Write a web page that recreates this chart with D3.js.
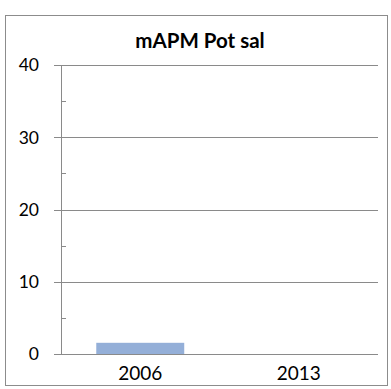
<!DOCTYPE html>
<html>
<head>
<meta charset="utf-8">
<script src="https://cdn.jsdelivr.net/npm/d3@7"></script>
<style>
  html, body { margin: 0; padding: 0; background: #fff; }
  svg { display: block; }
</style>
</head>
<body>
<svg id="chart" width="391" height="389"></svg>
<script>
const chartTitle = "mAPM Pot sal";
const categories = ["2006", "2013"];
const values = [1.55, 0];
const yTicks = [0, 10, 20, 30, 40];
const yMinorTicks = [5, 15, 25, 35];

(function () {
const svg = d3.select("#chart");
const font = "Lato, 'Liberation Sans', Arial, sans-serif";

// outer border
svg.append("rect")
  .attr("x", 5.5).attr("y", 15.5)
  .attr("width", 382).attr("height", 370)
  .attr("fill", "#fff").attr("stroke", "#8c8c8c").attr("stroke-width", 1);

const pLeft = 61, pRight = 378, pTop = 65, pBottom = 354;

const x = d3.scaleBand().domain(categories).range([pLeft, pRight]).paddingInner(0.445).paddingOuter(0.2225);
const y = d3.scaleLinear().domain([0, 40]).range([pBottom, pTop]);

// gridlines
svg.append("g").selectAll("line").data(yTicks.filter(d => d > 0)).join("line")
  .attr("x1", pLeft - 7).attr("x2", pRight)
  .attr("y1", d => Math.round(y(d)) + 0.5).attr("y2", d => Math.round(y(d)) + 0.5)
  .attr("stroke", "#8a8a8a").attr("stroke-width", 1);

// minor ticks
svg.append("g").selectAll("line").data(yMinorTicks).join("line")
  .attr("x1", pLeft).attr("x2", pLeft + 5)
  .attr("y1", d => Math.round(y(d)) + 0.5).attr("y2", d => Math.round(y(d)) + 0.5)
  .attr("stroke", "#8a8a8a").attr("stroke-width", 1);

// bars
svg.append("g").selectAll("rect").data(values).join("rect")
  .attr("x", (d, i) => x(categories[i]))
  .attr("width", x.bandwidth())
  .attr("y", d => y(d))
  .attr("height", d => y(0) - y(d))
  .attr("fill", "#94afd8");

// y axis line
svg.append("line")
  .attr("x1", pLeft + 0.5).attr("x2", pLeft + 0.5)
  .attr("y1", pTop).attr("y2", pBottom)
  .attr("stroke", "#8a8a8a");

// x axis line
svg.append("line")
  .attr("x1", pLeft - 7).attr("x2", pRight)
  .attr("y1", Math.round(y(0)) + 0.5).attr("y2", Math.round(y(0)) + 0.5)
  .attr("stroke", "#8a8a8a");

// y labels
svg.append("g").selectAll("text").data(yTicks).join("text")
  .attr("x", 39).attr("y", d => y(d))
  .attr("dy", "0.36em")
  .attr("text-anchor", "end")
  .attr("font-family", font).attr("font-size", 17.5).attr("fill", "#000")
  .text(d => d);

// x labels
svg.append("g").selectAll("text").data(categories).join("text")
  .attr("x", d => x(d) + x.bandwidth() / 2)
  .attr("y", 380)
  .attr("text-anchor", "middle")
  .attr("font-family", font).attr("font-size", 19).attr("fill", "#000")
  .text(d => d);

// title
svg.append("text")
  .attr("x", 200).attr("y", 48)
  .attr("text-anchor", "middle")
  .attr("font-family", font).attr("font-size", 20.5).attr("font-weight", "bold").attr("fill", "#000")
  .text(chartTitle);
})();
</script>
</body>
</html>
